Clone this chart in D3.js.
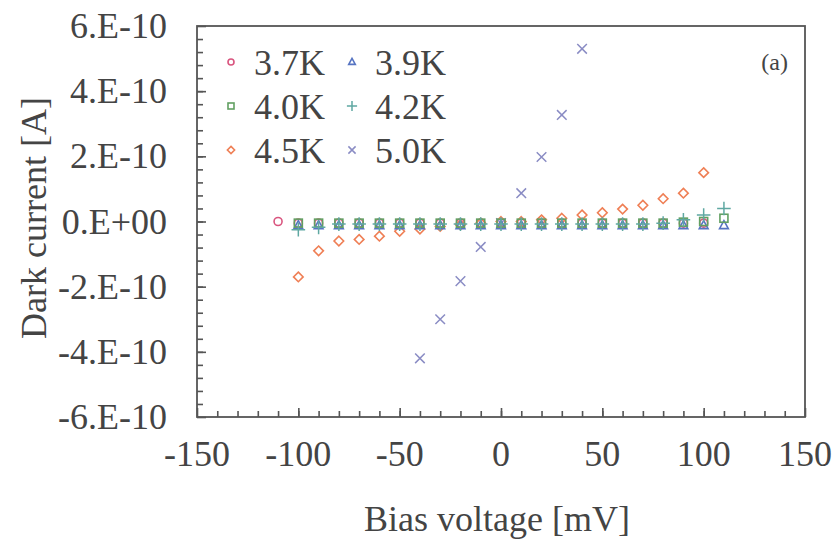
<!DOCTYPE html>
<html>
<head>
<meta charset="utf-8">
<script src="https://cdn.jsdelivr.net/npm/d3@7"></script>
<style>
  body { margin: 0; background: #fff; }
  text { font-family: "Liberation Serif", "DejaVu Serif", serif; fill: #444; }
</style>
</head>
<body>
<div id="chart"></div>
<script>
// bias voltage in mV, current in units of 1E-10 A
var voltage = [-110,-100,-90,-80,-70,-60,-50,-40,-30,-20,-10,0,10,20,30,40,50,60,70,80,90,100,110];

var t37 = [0,-0.05,-0.05,-0.05,-0.05,-0.05,-0.05,-0.05,-0.05,-0.05,-0.05,-0.05,-0.05,-0.05,-0.05,-0.05,-0.05,-0.05,-0.05,-0.05,-0.05,-0.05,null];
var t39 = [null,-0.12,-0.12,-0.12,-0.12,-0.12,-0.12,-0.12,-0.12,-0.12,-0.12,-0.12,-0.12,-0.12,-0.12,-0.12,-0.12,-0.12,-0.12,-0.12,-0.12,-0.12,-0.12];
var t40 = [null,-0.05,-0.05,-0.05,-0.05,-0.05,-0.05,-0.05,-0.05,-0.05,-0.05,-0.05,-0.05,-0.05,-0.05,-0.05,-0.05,-0.05,-0.05,-0.05,-0.02,0.0,0.1];
var t42 = [null,-0.25,-0.18,-0.08,-0.08,-0.08,-0.08,-0.08,-0.08,-0.08,-0.08,-0.08,-0.08,-0.08,-0.08,-0.08,-0.08,-0.08,-0.08,-0.05,0.05,0.2,0.4];
var t45 = [null,-1.7,-0.9,-0.6,-0.55,-0.45,-0.3,-0.23,-0.15,-0.1,-0.05,0,0,0.05,0.1,0.2,0.27,0.38,0.5,0.7,0.87,1.5,null];
var t50 = [null,null,null,null,null,null,null,-4.2,-3.0,-1.83,-0.78,-0.05,0.87,1.98,3.27,5.3,null,null,null,null,null,null,null];

var xTicks = [-150,-100,-50,0,50,100,150];
var yTicks = [-6,-4,-2,0,2,4,6];
var yTickLabels = ['-6.E-10','-4.E-10','-2.E-10','0.E+00','2.E-10','4.E-10','6.E-10'];

var series = [
  {name: '3.7K', values: t37, color: '#d9557f', shape: 'circle'},
  {name: '4.5K', values: t45, color: '#ef7f55', shape: 'diamond'},
  {name: '5.0K', values: t50, color: '#8a8cc4', shape: 'cross'},
  {name: '3.9K', values: t39, color: '#5674c2', shape: 'triangle'},
  {name: '4.0K', values: t40, color: '#62a062', shape: 'square'},
  {name: '4.2K', values: t42, color: '#5fa8a2', shape: 'plus'}
];
var legendOrder = ['3.7K','3.9K','4.0K','4.2K','4.5K','5.0K'];

(function(){
  var W = 837, H = 539;
  var pLeft = 197, pRight = 805, pTop = 26, pBottom = 417;

  var svg = d3.select('#chart').append('svg')
    .attr('width', W).attr('height', H);

  var x = d3.scaleLinear().domain([-150, 150]).range([pLeft, pRight]);
  var y = d3.scaleLinear().domain([-6, 6]).range([pBottom, pTop]);

  // frame
  svg.append('rect')
    .attr('x', pLeft).attr('y', pTop)
    .attr('width', pRight-pLeft).attr('height', pBottom-pTop)
    .attr('fill', 'none').attr('stroke', '#555').attr('stroke-width', 1.8);

  // inward ticks
  var xAxisMinor = d3.axisBottom(x).tickValues(d3.range(-140, 150, 10)).tickSize(-6).tickFormat('');
  var xAxisMajor = d3.axisBottom(x).tickValues(xTicks).tickSize(-9).tickFormat('');
  var yAxisMinor = d3.axisLeft(y).tickValues(d3.range(-56, 60, 4).map(function(v){ return v/10; })).tickSize(-6).tickFormat('');
  var yAxisMajor = d3.axisLeft(y).tickValues(yTicks).tickSize(-9).tickFormat('');

  [[xAxisMinor,'x'],[xAxisMajor,'x'],[yAxisMinor,'y'],[yAxisMajor,'y']].forEach(function(a){
    var g = svg.append('g')
      .attr('transform', a[1] == 'x' ? 'translate(0,'+pBottom+')' : 'translate('+pLeft+',0)')
      .call(a[0]);
    g.select('.domain').remove();
    g.selectAll('line').attr('stroke', '#555').attr('stroke-width', 1.6);
  });

  // tick labels
  svg.selectAll('.xlab').data(xTicks).enter().append('text')
    .attr('class', 'xlab')
    .attr('x', function(d){ return x(d); })
    .attr('y', 466)
    .attr('text-anchor', 'middle')
    .attr('font-size', 36)
    .text(function(d){ return d; });

  svg.selectAll('.ylab').data(yTicks).enter().append('text')
    .attr('class', 'ylab')
    .attr('x', 167)
    .attr('y', function(d){ return y(d) + 12; })
    .attr('text-anchor', 'end')
    .attr('font-size', 36)
    .text(function(d, i){ return yTickLabels[i]; });

  // axis titles
  svg.append('text')
    .attr('x', 497).attr('y', 531)
    .attr('text-anchor', 'middle')
    .attr('font-size', 36)
    .text('Bias voltage [mV]');

  svg.append('text')
    .attr('transform', 'translate(46,218) rotate(-90)')
    .attr('text-anchor', 'middle')
    .attr('font-size', 36)
    .text('Dark current [A]');

  svg.append('text')
    .attr('x', 788).attr('y', 70)
    .attr('text-anchor', 'end')
    .attr('font-size', 24)
    .text('(a)');

  function drawMarker(g, shape, color, s){
    if(shape == 'circle'){
      g.append('circle').attr('r', s).attr('fill', 'none').attr('stroke', color).attr('stroke-width', 1.6);
    } else if(shape == 'square'){
      g.append('rect').attr('x', -s).attr('y', -s).attr('width', 2*s).attr('height', 2*s)
        .attr('fill', 'none').attr('stroke', color).attr('stroke-width', 1.6);
    } else if(shape == 'triangle'){
      g.append('path').attr('d', 'M0,'+(-s*1.2)+'L'+(s*1.1)+','+(s*0.8)+'L'+(-s*1.1)+','+(s*0.8)+'Z')
        .attr('fill', 'none').attr('stroke', color).attr('stroke-width', 1.6);
    } else if(shape == 'diamond'){
      g.append('path').attr('d', 'M0,'+(-s*1.2)+'L'+(s*1.2)+',0L0,'+(s*1.2)+'L'+(-s*1.2)+',0Z')
        .attr('fill', 'none').attr('stroke', color).attr('stroke-width', 1.6);
    } else if(shape == 'plus'){
      g.append('path').attr('d', 'M0,'+(-s*1.7)+'V'+(s*1.7)+'M'+(-s*1.7)+',0H'+(s*1.7))
        .attr('fill', 'none').attr('stroke', color).attr('stroke-width', 1.5);
    } else if(shape == 'cross'){
      g.append('path').attr('d', 'M'+(-s*1.2)+','+(-s*1.2)+'L'+(s*1.2)+','+(s*1.2)+'M'+(-s*1.2)+','+(s*1.2)+'L'+(s*1.2)+','+(-s*1.2))
        .attr('fill', 'none').attr('stroke', color).attr('stroke-width', 1.5);
    }
  }

  // data points
  series.forEach(function(s){
    var pts = voltage.map(function(v, i){ return {v: v, c: s.values[i]}; })
      .filter(function(p){ return p.c != null; });
    svg.append('g').selectAll('g').data(pts).enter().append('g')
      .attr('transform', function(p){ return 'translate('+x(p.v)+','+y(p.c)+')'; })
      .each(function(){ drawMarker(d3.select(this), s.shape, s.color, 4); });
  });

  // legend
  legendOrder.forEach(function(name, i){
    var s = series.filter(function(d){ return d.name == name; })[0];
    var col = i % 2, row = Math.floor(i / 2);
    var mx = col == 0 ? 231 : 352;
    var my = 62 + row * 44;
    var g = svg.append('g').attr('transform', 'translate('+mx+','+my+')');
    drawMarker(g, s.shape, s.color, 3);
    svg.append('text')
      .attr('x', mx + 23).attr('y', my + 13)
      .attr('font-size', 36)
      .text(name);
  });
})();
</script>
</body>
</html>
